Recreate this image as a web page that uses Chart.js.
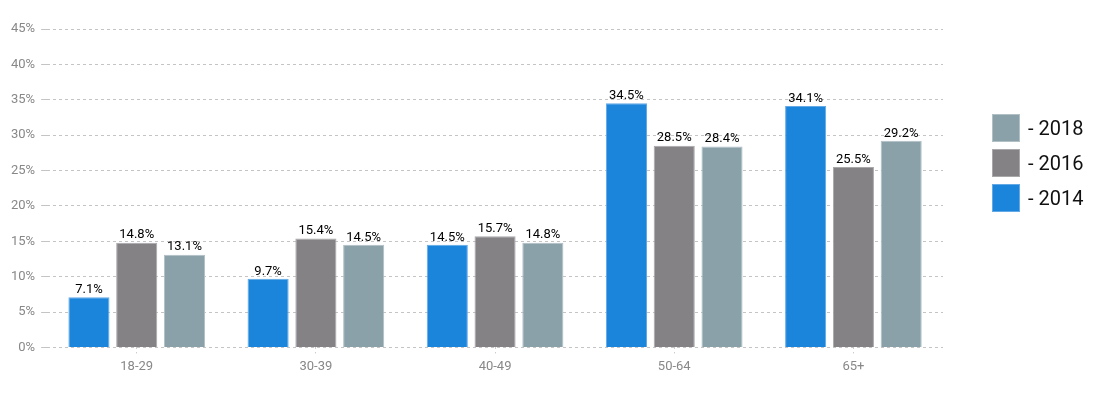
<!DOCTYPE html>
<html>
<head>
<meta charset="utf-8">
<script src="https://cdn.jsdelivr.net/npm/chart.js@4"></script>
<style>
  html, body { margin: 0; padding: 0; background: #fff; }
  #wrap { position: relative; width: 1110px; height: 416px; }
  #legend { position: absolute; left: 992px; top: 114px; font: 20px Roboto, sans-serif; color: #111; }
  .legend-row { display: flex; align-items: center; height: 28px; margin-bottom: 7px; }
  .legend-box { width: 26px; height: 26px; margin-right: 8px; border: 1px solid; }
</style>
</head>
<body>
<div id="wrap">
  <canvas id="ageChart"></canvas>
  <div id="legend"></div>
</div>
<script>
const ageGroups = ["18-29", "30-39", "40-49", "50-64", "65+"];
const values2014 = [7.1, 9.7, 14.5, 34.5, 34.1];
const values2016 = [14.8, 15.4, 15.7, 28.5, 25.5];
const values2018 = [13.1, 14.5, 14.8, 28.4, 29.2];
const yTicks = [0, 5, 10, 15, 20, 25, 30, 35, 40, 45];

const series = [
  { label: "2014", data: values2014, backgroundColor: "#1b84db", borderColor: "#62a9e6", borderWidth: 1 },
  { label: "2016", data: values2016, backgroundColor: "#858286", borderColor: "#a9a7aa", borderWidth: 1 },
  { label: "2018", data: values2018, backgroundColor: "#8aa1a9", borderColor: "#b0c0c5", borderWidth: 1 },
];

// draws the value above every bar
const barLabels = {
  id: "barLabels",
  afterDatasetsDraw(chart) {
    const ctx = chart.ctx;
    ctx.save();
    ctx.font = "13px Roboto";
    ctx.fillStyle = "#000";
    ctx.textAlign = "center";
    ctx.textBaseline = "bottom";
    chart.data.datasets.forEach((ds, i) => {
      chart.getDatasetMeta(i).data.forEach((bar, j) => {
        ctx.fillText(ds.data[j].toFixed(1) + "%", bar.x, bar.y - 1);
      });
    });
    ctx.restore();
  },
};

new Chart(document.getElementById("ageChart"), {
  type: "bar",
  data: { labels: ageGroups, datasets: series },
  options: {
    responsive: true,
    maintainAspectRatio: false,
    animation: false,
    categoryPercentage: 0.8,
    barPercentage: 0.86,
    layout: { padding: { left: 5, right: 167, top: 29, bottom: 35 } },
    plugins: {
      tooltip: { enabled: false },
      legend: { display: false },
    },
    scales: {
      x: {
        grid: { display: true, offset: false, drawOnChartArea: false, tickLength: 6, color: "#ccc", tickBorderDash: [2, 3] },
        border: { display: false },
        ticks: { color: "#888", font: { family: "Roboto", size: 13 }, padding: 6 },
      },
      y: {
        min: 0,
        max: 45,
        afterBuildTicks(axis) { axis.ticks = yTicks.map(v => ({ value: v })); },
        grid: { color: "#c4c4c4", tickLength: 6 },
        border: { display: false, dash: [3, 3] },
        ticks: {
          color: "#888",
          font: { family: "Roboto", size: 13 },
          padding: 6,
          callback: v => v + "%",
        },
      },
    },
  },
  plugins: [barLabels],
});

// legend on the right, newest year first
document.getElementById("legend").innerHTML = series.slice().reverse().map(s => `
  <div class="legend-row">
    <div class="legend-box" style="background:${s.backgroundColor};border-color:${s.borderColor}"></div>
    <span>- ${s.label}</span>
  </div>
`).join("");
</script>
</body>
</html>
